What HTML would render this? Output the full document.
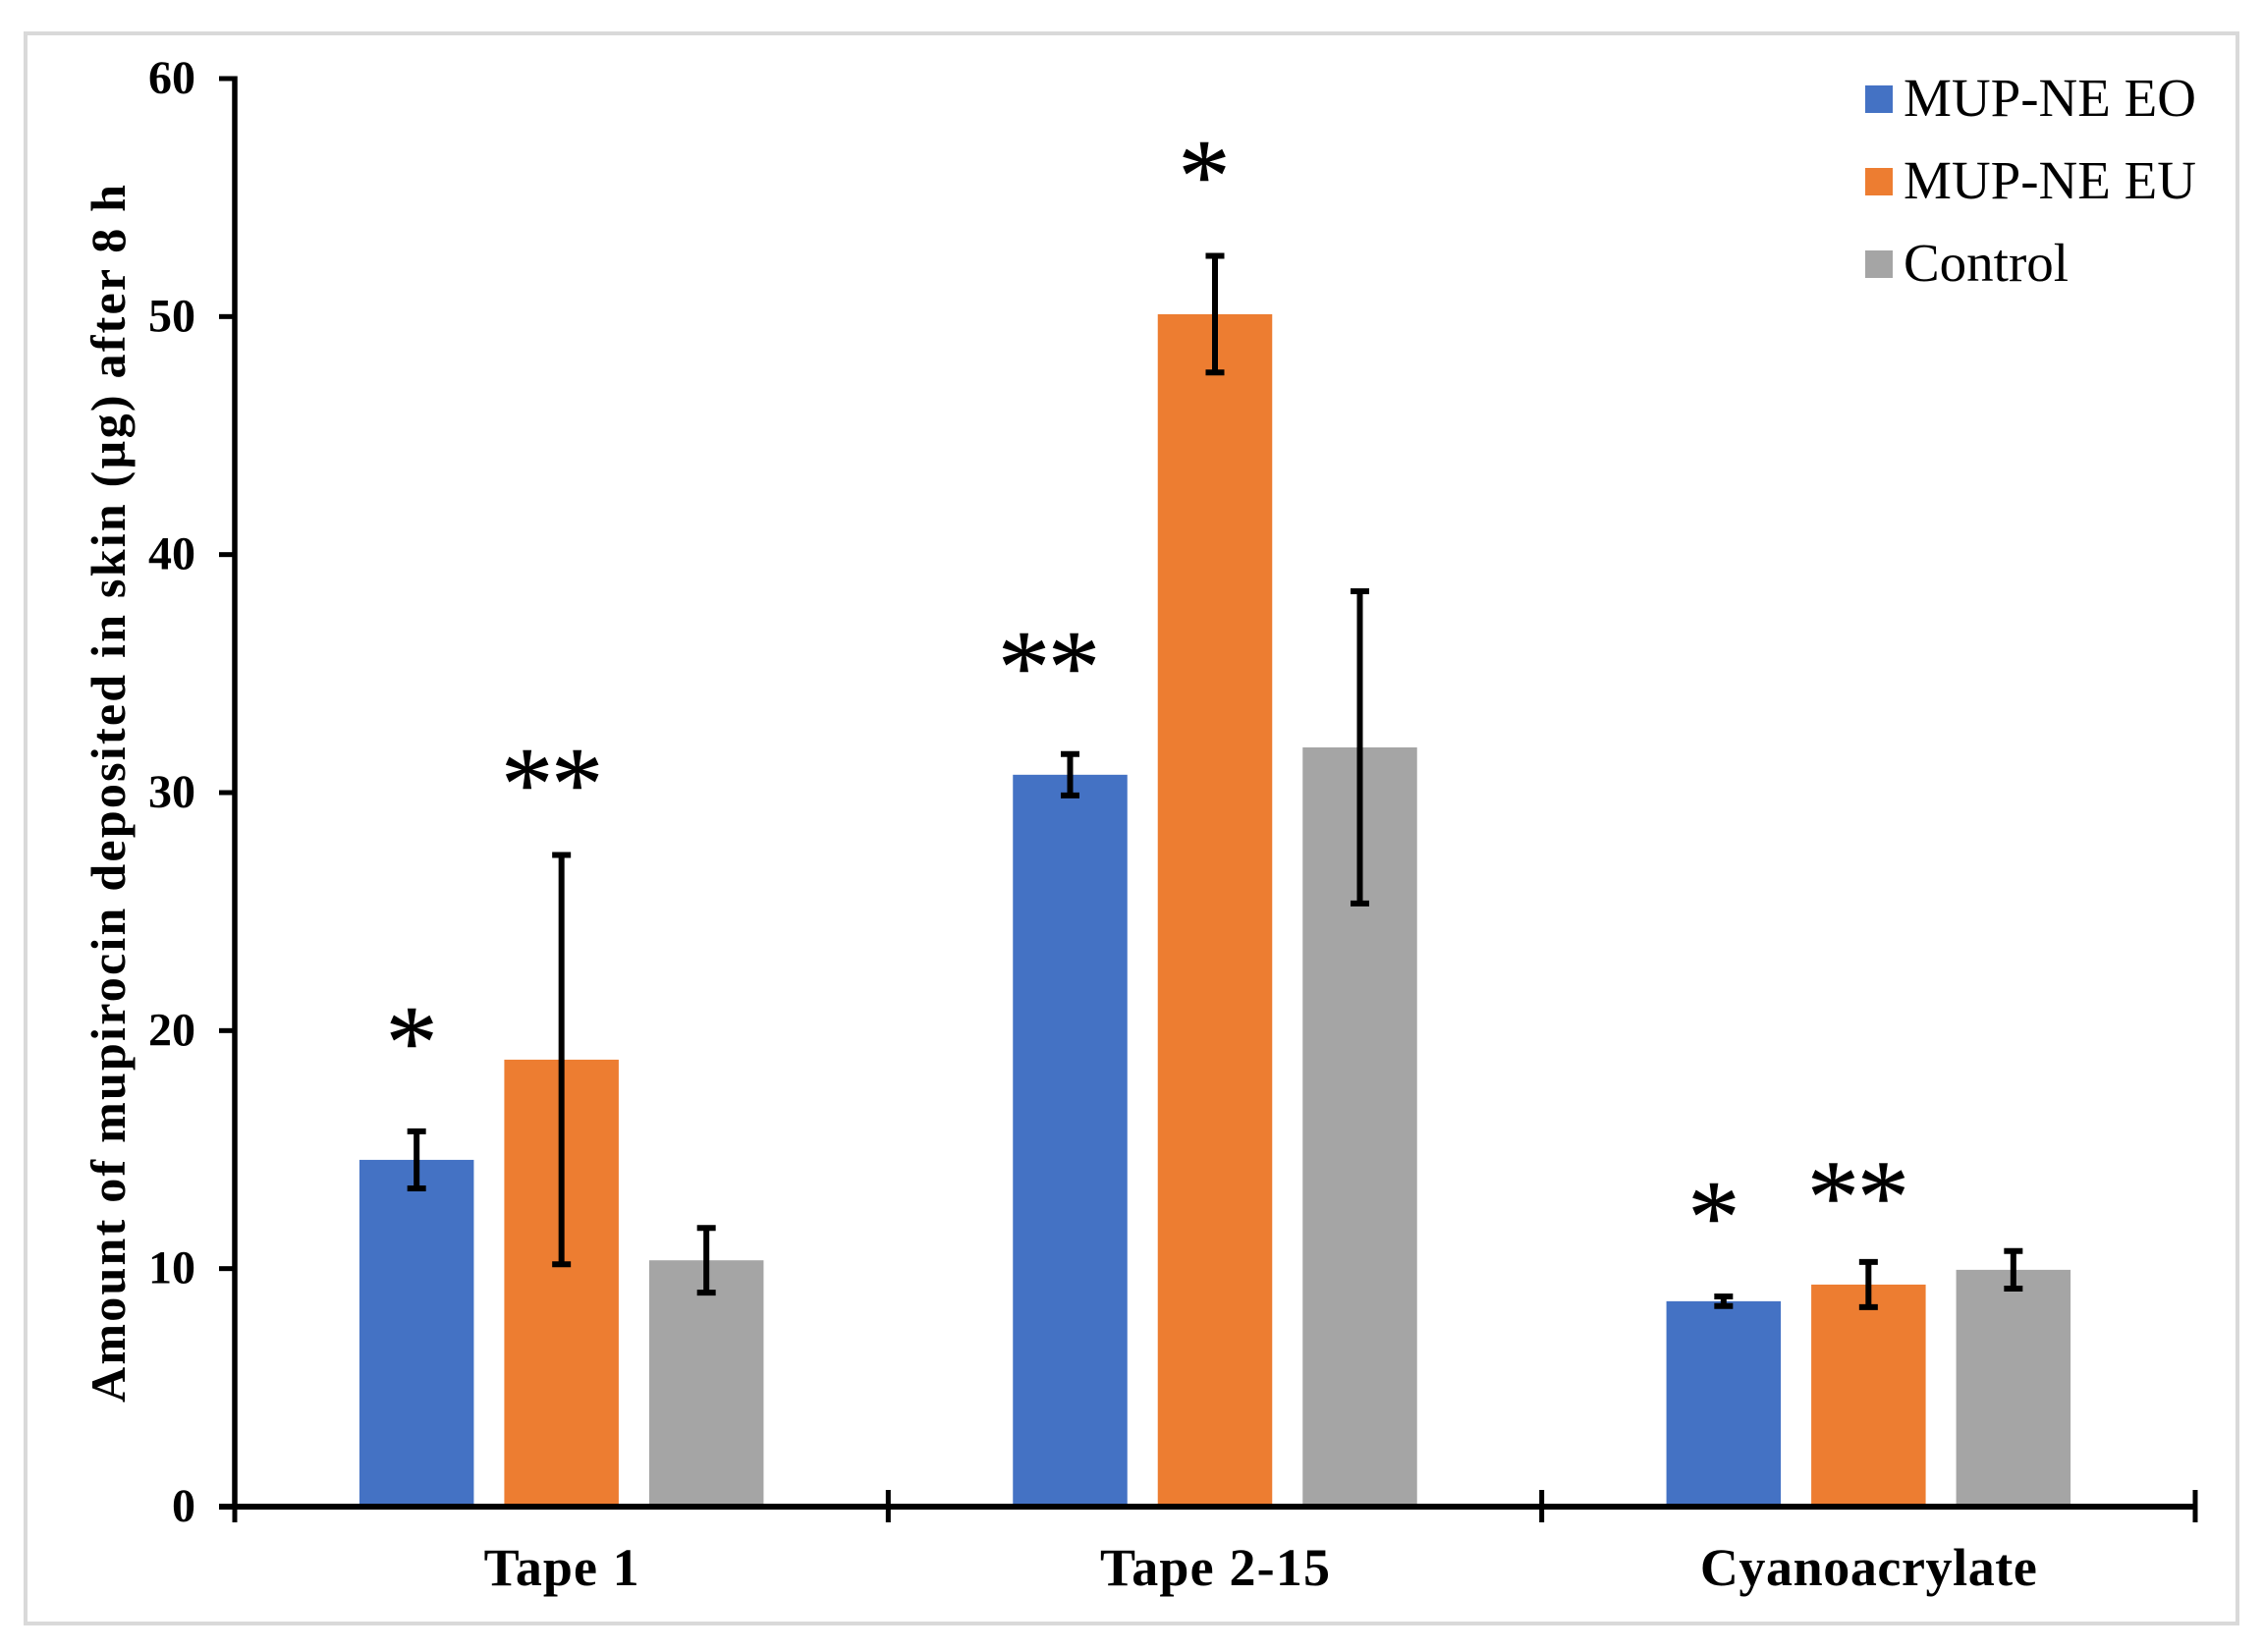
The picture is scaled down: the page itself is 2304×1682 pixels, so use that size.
<!DOCTYPE html>
<html lang="en">
<head>
<meta charset="utf-8">
<title>Amount of mupirocin deposited in skin</title>
<style>
  html, body { margin: 0; padding: 0; background: #fff; }
  body { width: 2304px; height: 1682px; overflow: hidden; }
  svg { display: block; }
  text { font-family: "Liberation Serif", serif; fill: #000; }
  .bold { font-weight: bold; }
</style>
</head>
<body>
<svg id="chart" xmlns="http://www.w3.org/2000/svg" width="2304" height="1682" viewBox="0 0 2304 1682">
  <rect x="26" y="34" width="2252" height="1619" fill="#fff" stroke="#d9d9d9" stroke-width="4"/>
  <g id="bars"></g>
  <g id="errors"></g>
  <g id="axes"></g>
  <g id="sig"></g>
  <text class="bold" font-size="50" text-anchor="middle" textLength="1240" lengthAdjust="spacing" transform="translate(127 808) rotate(-90)">Amount of mupirocin deposited in skin (µg) after 8 h</text>
  <g id="legend"></g>
</svg>
<script>
const categories = ['Tape 1', 'Tape 2-15', 'Cyanoacrylate'];
const seriesNames = ['MUP-NE EO', 'MUP-NE EU', 'Control'];
const seriesColors = ['#4472C4', '#ED7D31', '#A5A5A5'];
const eoValues = [14.57, 30.75, 8.63];
const euValues = [18.78, 50.1, 9.33];
const controlValues = [10.35, 31.9, 9.95];
const eoErrors = [1.2, 0.87, 0.2];
const euErrors = [8.6, 2.45, 0.95];
const controlErrors = [1.36, 6.56, 0.79];
const yTicks = [0, 10, 20, 30, 40, 50, 60];
const eoSignificance = ['*', '**', '*'];
const euSignificance = ['**', '*', '**'];
const eoSignificanceLevel = [20.2, 35.96, 12.85];
const euSignificanceLevel = [31.06, 56.6, 13.7];

const seriesValues = [eoValues, euValues, controlValues];
const seriesErrors = [eoErrors, euErrors, controlErrors];
const NS = 'http://www.w3.org/2000/svg';
const axisX = 239, axisRight = 2235, axisY = 1534, axisTop = 80, yMax = 60;
const bandWidth = (axisRight - axisX) / categories.length;
const barWidth = 116.5, barPitch = 147.5;
const yScale = v => axisY - (v / yMax) * (axisY - axisTop);
const bandCenter = i => axisX + bandWidth * (i + 0.5);
const barCenter = (i, s) => bandCenter(i) + (s - 1) * barPitch;

function make(tag, parent, attrs, text) {
  const el = document.createElementNS(NS, tag);
  for (const k in attrs) el.setAttribute(k, attrs[k]);
  if (text !== undefined) el.textContent = text;
  parent.appendChild(el);
  return el;
}
const slug = s => s.toLowerCase().replace(/[^a-z0-9]+/g, '-');

const barsG = document.getElementById('bars');
const errG = document.getElementById('errors');
const axesG = document.getElementById('axes');
const sigG = document.getElementById('sig');
const legendG = document.getElementById('legend');

categories.forEach((cat, i) => {
  seriesNames.forEach((name, s) => {
    const v = seriesValues[s][i], e = seriesErrors[s][i], cx = barCenter(i, s);
    const bar = make('rect', barsG, { x: cx - barWidth / 2, y: yScale(v), width: barWidth, height: axisY - yScale(v), fill: seriesColors[s] });
    
    
    const top = yScale(v + e), bottom = yScale(v - e);
    const eb = make('path', errG, { d: `M${cx} ${top}V${bottom}M${cx - 9.5} ${top}H${cx + 9.5}M${cx - 9.5} ${bottom}H${cx + 9.5}`, stroke: '#000', 'stroke-width': 6, fill: 'none' });
    
    
  });
});

const yAxisLine = make('line', axesG, { x1: axisX, x2: axisX, y1: axisTop - 2.5, y2: axisY + 3, stroke: '#000', 'stroke-width': 5.5 });


const xAxisLine = make('line', axesG, { x1: axisX - 16, x2: axisRight + 2.5, y1: axisY, y2: axisY, stroke: '#000', 'stroke-width': 6 });



yTicks.forEach(t => {
  const y = yScale(t);
  const tick = make('line', axesG, { x1: axisX - 16, x2: axisX, y1: y, y2: y, stroke: '#000', 'stroke-width': 5 });
  
  
  const label = make('text', axesG, { x: 199, y: y + 15, 'text-anchor': 'end', 'font-size': 48, class: 'bold' }, String(t));
  
  
});

for (let i = 0; i <= categories.length; i++) {
  const x = axisX + bandWidth * i;
  const tick = make('line', axesG, { x1: x, x2: x, y1: 1517, y2: 1550, stroke: '#000', 'stroke-width': 5 });
  
  
}
const xLabelWidths = [158, 234, 343];
categories.forEach((cat, i) => {
  const label = make('text', axesG, { x: bandCenter(i), y: 1614, 'text-anchor': 'middle', 'font-size': 54, class: 'bold', textLength: xLabelWidths[i], lengthAdjust: 'spacing' }, cat);
  
  
});

const sigNudgeEO = [-5, -21.5, -10];
const sigNudgeEU = [-9.5, -11, -10.5];
function drawSig(mark, level, s, i, nudge) {
  const cx = barCenter(i, s) + nudge;
  const gap = 51;
  [...mark].forEach((ch, k) => {
    const x = cx + (k - (mark.length - 1) / 2) * gap;
    const t = make('text', sigG, { x: x, y: yScale(level) + 52, 'text-anchor': 'middle', 'font-size': 106, stroke: '#000', 'stroke-width': 0.6 }, ch);
    
    
  });
}
categories.forEach((cat, i) => {
  drawSig(eoSignificance[i], eoSignificanceLevel[i], 0, i, sigNudgeEO[i]);
  drawSig(euSignificance[i], euSignificanceLevel[i], 1, i, sigNudgeEU[i]);
});

const legendRowStep = 84;
seriesNames.forEach((name, s) => {
  const rowY = 101 + s * legendRowStep;
  const sw = make('rect', legendG, { x: 1899, y: rowY - 14, width: 28, height: 28, fill: seriesColors[s] });
  
  
  const label = make('text', legendG, { x: 1938, y: rowY + 17, 'font-size': 55 }, name);
  
  
});
</script>
</body>
</html>
